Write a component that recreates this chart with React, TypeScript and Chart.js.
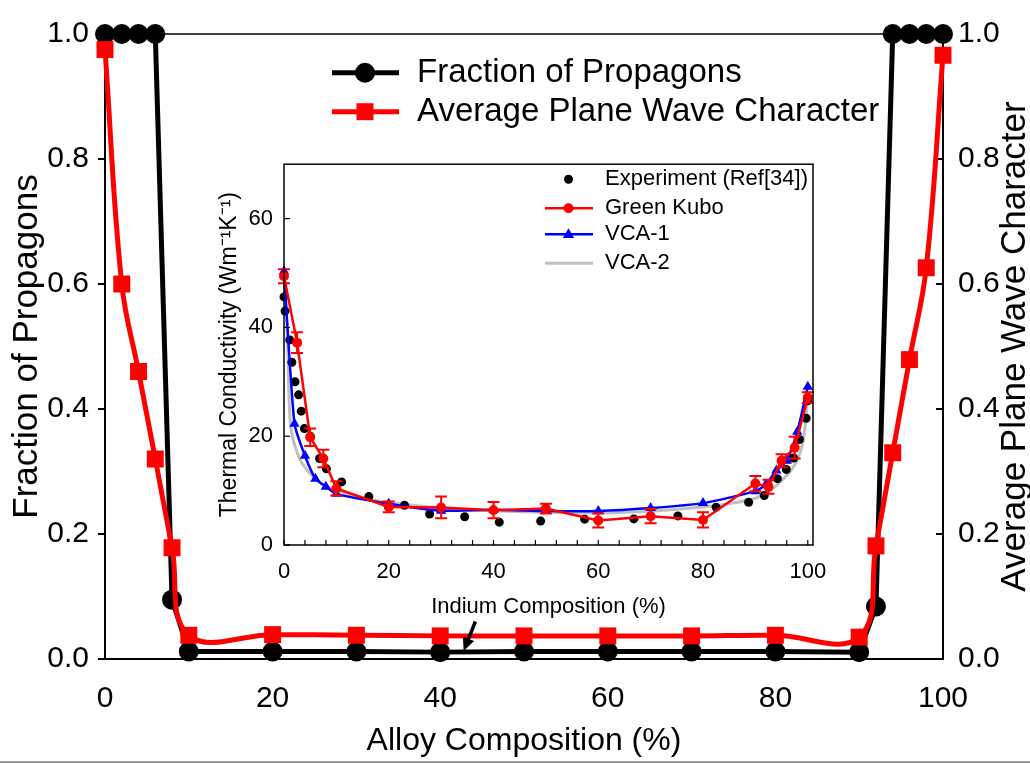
import React, { useEffect, useRef } from 'react';
import { Chart, registerables } from 'chart.js';

Chart.register(...registerables);

const FAMILY = "'Liberation Sans', Arial, sans-serif";

// ---------------- Main chart data ----------------
const alloyComposition = [0, 2, 4, 6, 8, 10, 20, 30, 40, 50, 60, 70, 80, 90, 92, 94, 96, 98, 100];
const fractionOfPropagons = [1, 1, 1, 1, 0.095, 0.012, 0.012, 0.012, 0.011, 0.012, 0.012, 0.012, 0.012, 0.011, 0.084, 1, 1, 1, 1];
const planeWaveCharacter = [0.975, 0.6, 0.46, 0.32, 0.178, 0.038, 0.039, 0.038, 0.037, 0.037, 0.037, 0.037, 0.038, 0.035, 0.181, 0.33, 0.479, 0.626, 0.966];
const mainXTicks = [0, 20, 40, 60, 80, 100];
const mainYTicks = [0, 0.2, 0.4, 0.6, 0.8, 1.0];
const arrowStart = { x: 44.2, y: 0.06 };
const arrowEnd = { x: 42.8, y: 0.013 };

// ---------------- Inset data ----------------
const expX = [0, 0.2, 1.1, 1.5, 2.1, 2.8, 3.3, 3.9, 5.0, 6.8, 8.1, 11, 16.2, 23, 27.8, 34.5, 41.1, 49, 57.4, 66.8, 75.2, 82.5, 88.7, 91.7, 94.2, 95.9, 97.3, 98.4, 99.7, 100];
const expY = [45.6, 43, 37.7, 33.6, 30, 27.6, 24.6, 21.4, 20, 15.9, 14, 11.6, 8.9, 7.3, 5.7, 5.2, 4.2, 4.4, 4.75, 4.8, 5.35, 6.95, 7.85, 9.1, 12.2, 13.9, 16, 19.4, 23.3, 26.5];

const gkX = [0, 2.5, 5, 7.5, 10, 20, 30, 40, 50, 60, 70, 80, 90, 92.5, 95, 97.5, 100];
const gkY = [49.4, 37.2, 19.8, 15.9, 10.4, 7.0, 6.9, 6.4, 6.7, 4.5, 5.3, 4.6, 11.3, 10.7, 15.5, 17.9, 27.1];
const gkErr = [1.3, 1.9, 1.6, 1.6, 1.3, 1.0, 2.0, 1.5, 0.9, 1.3, 1.3, 1.4, 1.4, 1.3, 1.2, 2.0, 1.0];

const vca1X = [0, 2, 4, 6, 8, 10, 20, 30, 40, 50, 60, 70, 80, 90, 92, 94, 96, 98, 100];
const vca1Y = [50.3, 22.3, 16.4, 12.2, 10.7, 9.4, 7.6, 6.3, 6.5, 6.25, 6.25, 6.8, 7.7, 9.9, 11.1, 13.7, 15.5, 20.8, 29.1];

const vca2X = [0.2, 0.4, 0.65, 0.9, 1.2, 1.5, 2, 3, 4, 5, 7, 9, 12, 15, 20, 30, 40, 50, 60, 70, 80, 85, 90, 92, 94, 96, 97, 98, 99, 99.4, 99.7, 100];
const vca2Y = [47, 43, 38, 29, 22.5, 20.5, 18.5, 15.8, 14.3, 13.1, 11.4, 10.4, 9.4, 8.7, 7.8, 6.8, 6.3, 6.0, 5.9, 6.2, 7.0, 7.6, 8.6, 9.5, 10.9, 12.8, 14.0, 15.6, 18.5, 21, 24, 27];

const insetXTicks = [0, 4, 8, 12, 16, 20, 24, 28, 32, 36, 40, 44, 48, 52, 56, 60, 64, 68, 72, 76, 80, 84, 88, 92, 96, 100];
const insetYTicks = [0, 20, 40, 60];

const toPts = (xs: number[], ys: number[]) => xs.map((x, i) => ({ x, y: ys[i] }));
const font = (s: number) => `${s}px ${FAMILY}`;

function drawMarker(ctx: CanvasRenderingContext2D, style: string, x: number, y: number, r: number, color: string) {
  ctx.fillStyle = color;
  ctx.beginPath();
  if (style === 'circle') {
    ctx.arc(x, y, r, 0, Math.PI * 2);
  } else if (style === 'rect') {
    ctx.rect(x - r, y - r, 2 * r, 2 * r);
  } else if (style === 'triangle') {
    ctx.moveTo(x, y - r);
    ctx.lineTo(x + r * 0.95, y + r * 0.6);
    ctx.lineTo(x - r * 0.95, y + r * 0.6);
    ctx.closePath();
  }
  ctx.fill();
}

const mainDecor = {
  id: 'mainDecor',
  beforeDatasetsDraw(chart: any) {
    const { ctx, chartArea: ca, scales } = chart;
    ctx.save();
    ctx.strokeStyle = '#000';
    ctx.lineWidth = 1.5;
    ctx.beginPath();
    ctx.moveTo(ca.left, ca.top);
    ctx.lineTo(ca.right, ca.top);
    ctx.stroke();
    ctx.lineWidth = 2;
    scales.y.ticks.forEach((t: any) => {
      const p = scales.y.getPixelForValue(t.value);
      ctx.beginPath(); ctx.moveTo(ca.left - 7, p); ctx.lineTo(ca.left, p); ctx.stroke();
    });
    scales.y2.ticks.forEach((t: any) => {
      const p = scales.y2.getPixelForValue(t.value);
      ctx.beginPath(); ctx.moveTo(ca.right - 7, p); ctx.lineTo(ca.right, p); ctx.stroke();
    });
    ctx.restore();
  },
  afterDraw(chart: any) {
    const { ctx, chartArea: ca, scales } = chart;
    ctx.save();
    // right axis title (reads bottom to top)
    ctx.fillStyle = '#000';
    ctx.font = font(35);
    ctx.textAlign = 'center';
    ctx.textBaseline = 'middle';
    ctx.translate(1015, (ca.top + ca.bottom) / 2);
    ctx.rotate(-Math.PI / 2);
    ctx.fillText('Average Plane Wave Character', 0, 0);
    ctx.restore();

    // arrow annotation
    ctx.save();
    const x1 = scales.x.getPixelForValue(arrowStart.x), y1 = scales.y.getPixelForValue(arrowStart.y);
    const x2 = scales.x.getPixelForValue(arrowEnd.x), y2 = scales.y.getPixelForValue(arrowEnd.y);
    const ang = Math.atan2(y2 - y1, x2 - x1);
    const hl = 13, hw = 6;
    const bx = x2 - hl * Math.cos(ang), by = y2 - hl * Math.sin(ang);
    ctx.strokeStyle = '#000';
    ctx.fillStyle = '#000';
    ctx.lineWidth = 3.5;
    ctx.beginPath(); ctx.moveTo(x1, y1); ctx.lineTo(bx, by); ctx.stroke();
    ctx.beginPath();
    ctx.moveTo(x2, y2);
    ctx.lineTo(bx + hw * Math.sin(ang), by - hw * Math.cos(ang));
    ctx.lineTo(bx - hw * Math.sin(ang), by + hw * Math.cos(ang));
    ctx.closePath();
    ctx.fill();
    ctx.restore();

    // legend
    ctx.save();
    const items = [
      { label: 'Fraction of Propagons', color: '#000000', style: 'circle', r: 10, y: 72.7 },
      { label: 'Average Plane Wave Character', color: '#ff0000', style: 'rect', r: 8.5, y: 111.7 },
    ];
    items.forEach((it) => {
      ctx.strokeStyle = it.color;
      ctx.lineWidth = 5;
      ctx.beginPath(); ctx.moveTo(332, it.y); ctx.lineTo(399, it.y); ctx.stroke();
      drawMarker(ctx, it.style, 365, it.y, it.r, it.color);
      ctx.fillStyle = '#000';
      ctx.font = font(33);
      ctx.textAlign = 'left';
      ctx.textBaseline = 'middle';
      ctx.fillText(it.label, 417, it.y);
    });
    ctx.restore();
  },
};

const insetDecor = {
  id: 'insetDecor',
  afterDatasetsDraw(chart: any) {
    const { ctx, scales } = chart;
    ctx.save();
    ctx.strokeStyle = '#ff0000';
    ctx.lineWidth = 2;
    gkX.forEach((x, i) => {
      const px = scales.x.getPixelForValue(x);
      const top = scales.y.getPixelForValue(gkY[i] + gkErr[i]);
      const bot = scales.y.getPixelForValue(gkY[i] - gkErr[i]);
      ctx.beginPath();
      ctx.moveTo(px, top); ctx.lineTo(px, bot);
      ctx.moveTo(px - 6, top); ctx.lineTo(px + 6, top);
      ctx.moveTo(px - 6, bot); ctx.lineTo(px + 6, bot);
      ctx.stroke();
    });
    ctx.restore();
  },
  afterDraw(chart: any) {
    const { ctx, chartArea: ca, scales } = chart;
    ctx.save();
    ctx.strokeStyle = '#000';
    ctx.lineWidth = 1.5;
    ctx.strokeRect(ca.left, ca.top, ca.right - ca.left, ca.bottom - ca.top);
    ctx.lineWidth = 1.2;
    scales.x.ticks.forEach((t: any) => {
      const p = scales.x.getPixelForValue(t.value);
      ctx.beginPath(); ctx.moveTo(p, ca.bottom); ctx.lineTo(p, ca.bottom - 5); ctx.stroke();
    });
    scales.y.ticks.forEach((t: any) => {
      const p = scales.y.getPixelForValue(t.value);
      ctx.beginPath(); ctx.moveTo(ca.left, p); ctx.lineTo(ca.left + 6, p); ctx.stroke();
    });

    const rows = [
      { label: 'Experiment (Ref[34])', color: '#000000', style: 'circle', r: 4.5, line: false, lw: 0, y: 39.3 },
      { label: 'Green Kubo', color: '#ff0000', style: 'circle', r: 5, line: true, lw: 2.5, y: 68.3 },
      { label: 'VCA-1', color: '#0000ff', style: 'triangle', r: 6, line: true, lw: 2.5, y: 94.3 },
      { label: 'VCA-2', color: '#c0c0c0', style: 'none', r: 0, line: true, lw: 3, y: 123.3 },
    ];
    rows.forEach((it) => {
      if (it.line) {
        ctx.strokeStyle = it.color;
        ctx.lineWidth = it.lw;
        ctx.beginPath(); ctx.moveTo(330, it.y); ctx.lineTo(378, it.y); ctx.stroke();
      }
      if (it.style !== 'none') drawMarker(ctx, it.style, 353.5, it.y, it.r, it.color);
      ctx.fillStyle = '#000';
      ctx.font = font(22);
      ctx.textAlign = 'left';
      ctx.textBaseline = 'middle';
      ctx.fillText(it.label, 390, it.y);
    });
    ctx.restore();
  },
};

export default function App() {
  const mainRef = useRef<HTMLCanvasElement>(null);
  const insetRef = useRef<HTMLCanvasElement>(null);

  useEffect(() => {
    Chart.defaults.color = '#000';
    Chart.defaults.font.family = FAMILY;

    const axisCommon = {
      grid: { display: true, drawOnChartArea: false, drawTicks: false },
      border: { display: true, color: '#000', width: 2 },
    };

    const main = new Chart(mainRef.current as HTMLCanvasElement, {
      type: 'line',
      data: {
        datasets: [
          {
            label: 'Average Plane Wave Character',
            data: toPts(alloyComposition, planeWaveCharacter),
            yAxisID: 'y2',
            borderColor: '#ff0000',
            backgroundColor: '#ff0000',
            borderWidth: 5,
            pointStyle: 'rect',
            pointRadius: 12,
            pointBorderWidth: 0,
            pointBackgroundColor: '#ff0000',
            tension: 0.4,
            clip: false,
            order: 0,
          } as any,
          {
            label: 'Fraction of Propagons',
            data: toPts(alloyComposition, fractionOfPropagons),
            yAxisID: 'y',
            borderColor: '#000000',
            backgroundColor: '#000000',
            borderWidth: 5,
            pointStyle: 'circle',
            pointRadius: 10,
            pointBorderWidth: 0,
            pointBackgroundColor: '#000000',
            tension: 0,
            clip: false,
            order: 1,
          } as any,
        ],
      },
      options: {
        responsive: false,
        devicePixelRatio: 1,
        animation: false,
        layout: { padding: { top: 30, left: 0, right: 0, bottom: 0 } },
        plugins: { legend: { display: false }, tooltip: { enabled: false } },
        scales: {
          x: {
            type: 'linear',
            min: 0,
            max: 100,
            ...axisCommon,
            afterBuildTicks: (s: any) => { s.ticks = mainXTicks.map((v) => ({ value: v })); },
            afterFit: (s: any) => { s.height = 104; },
            ticks: { font: { size: 30 }, padding: 22, maxRotation: 0, autoSkip: false, callback: (v: any) => String(v) },
            title: { display: true, text: 'Alloy Composition (%)', font: { size: 32 }, padding: { top: 0, bottom: 3 } },
          },
          y: {
            type: 'linear',
            position: 'left',
            min: 0,
            max: 1,
            ...axisCommon,
            afterBuildTicks: (s: any) => { s.ticks = mainYTicks.map((v) => ({ value: v })); },
            afterFit: (s: any) => { s.width = 105; },
            ticks: { font: { size: 30 }, padding: 16, callback: (v: any) => Number(v).toFixed(1) },
            title: { display: true, text: 'Fraction of Propagons', font: { size: 35 }, padding: { top: 6, bottom: 0 } },
          },
          y2: {
            type: 'linear',
            position: 'right',
            min: 0,
            max: 1,
            ...axisCommon,
            afterBuildTicks: (s: any) => { s.ticks = mainYTicks.map((v) => ({ value: v })); },
            afterFit: (s: any) => { s.width = 87; },
            ticks: { font: { size: 30 }, padding: 15, callback: (v: any) => Number(v).toFixed(1) },
            title: { display: false },
          },
        },
      } as any,
      plugins: [mainDecor],
    });

    const inset = new Chart(insetRef.current as HTMLCanvasElement, {
      type: 'line',
      data: {
        datasets: [
          {
            label: 'Green Kubo',
            data: toPts(gkX, gkY),
            borderColor: '#ff0000',
            backgroundColor: '#ff0000',
            borderWidth: 2.5,
            pointStyle: 'circle',
            pointRadius: 5,
            pointBorderWidth: 0,
            tension: 0,
            clip: false,
            order: 0,
          } as any,
          {
            label: 'VCA-1',
            data: toPts(vca1X, vca1Y),
            borderColor: '#0000ff',
            backgroundColor: '#0000ff',
            borderWidth: 2.5,
            pointStyle: 'triangle',
            pointRadius: 6,
            pointBorderWidth: 0,
            tension: 0.2,
            clip: false,
            order: 1,
          } as any,
          {
            label: 'Experiment (Ref[34])',
            data: toPts(expX, expY),
            showLine: false,
            borderColor: '#000000',
            backgroundColor: '#000000',
            pointStyle: 'circle',
            pointRadius: 4.5,
            pointBorderWidth: 0,
            clip: false,
            order: 2,
          } as any,
          {
            label: 'VCA-2',
            data: toPts(vca2X, vca2Y),
            borderColor: '#c0c0c0',
            backgroundColor: '#c0c0c0',
            borderWidth: 3,
            pointRadius: 0,
            tension: 0.4,
            clip: false,
            order: 3,
          } as any,
        ],
      },
      options: {
        responsive: false,
        devicePixelRatio: 1,
        animation: false,
        layout: { padding: { top: 12, left: 0, right: 42, bottom: 0 } },
        plugins: { legend: { display: false }, tooltip: { enabled: false } },
        scales: {
          x: {
            type: 'linear',
            min: 0,
            max: 101,
            grid: { display: false, drawTicks: false },
            border: { display: false },
            afterBuildTicks: (s: any) => { s.ticks = insetXTicks.map((v) => ({ value: v })); },
            afterFit: (s: any) => { s.height = 75; },
            ticks: {
              font: { size: 22 },
              padding: 14,
              maxRotation: 0,
              autoSkip: false,
              callback: (v: any) => (Number(v) % 20 === 0 ? String(v) : ''),
            },
            title: { display: true, text: 'Indium Composition (%)', font: { size: 22 }, padding: { top: 0, bottom: 0 } },
          },
          y: {
            type: 'linear',
            min: 0,
            max: 70,
            grid: { display: false, drawTicks: false },
            border: { display: false },
            afterBuildTicks: (s: any) => { s.ticks = insetYTicks.map((v) => ({ value: v })); },
            afterFit: (s: any) => { s.width = 69; },
            ticks: { font: { size: 22 }, padding: 11, callback: (v: any) => String(v) },
            title: { display: true, text: 'Thermal Conductivity (Wm⁻¹K⁻¹)', font: { size: 23 }, padding: { top: 1, bottom: 0 } },
          },
        },
      } as any,
      plugins: [insetDecor],
    });

    return () => {
      main.destroy();
      inset.destroy();
    };
  }, []);

  return (
    <div style={{ position: 'fixed', left: 0, top: 0, width: 1030, height: 763, background: '#ffffff', overflow: 'hidden' }}>
      <canvas ref={mainRef} width={1030} height={763} style={{ position: 'absolute', left: 0, top: 0, width: 1030, height: 763 }} />
      <canvas ref={insetRef} width={640} height={480} style={{ position: 'absolute', left: 215, top: 140, width: 640, height: 480 }} />
      <div style={{ position: 'absolute', left: 0, top: 761, width: 1030, height: 2, background: '#999999' }} />
    </div>
  );
}
